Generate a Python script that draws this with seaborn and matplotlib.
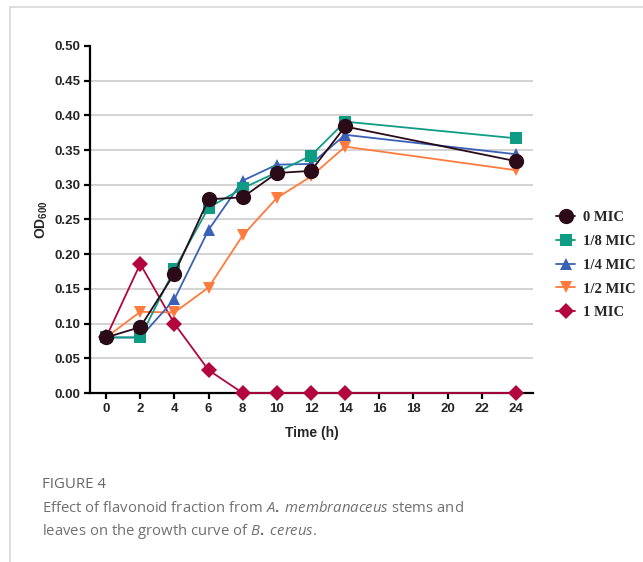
import numpy as np
import pandas as pd
import seaborn as sns
import matplotlib.pyplot as plt
from matplotlib.lines import Line2D

# data
time_h = [0, 2, 4, 6, 8, 10, 12, 14, 24]
od_0mic = [0.080, 0.095, 0.172, 0.279, 0.282, 0.317, 0.320, 0.384, 0.334]
od_18mic = [0.080, 0.080, 0.178, 0.267, 0.295, 0.318, 0.342, 0.391, 0.367]
od_14mic = [0.080, 0.080, 0.135, 0.235, 0.306, 0.329, 0.330, 0.372, 0.344]
od_12mic = [0.080, 0.117, 0.116, 0.152, 0.227, 0.281, 0.312, 0.355, 0.321]
od_1mic = [0.080, 0.186, 0.100, 0.033, 0.000, 0.000, 0.000, 0.000, 0.000]

groups = ["0 MIC", "1/8 MIC", "1/4 MIC", "1/2 MIC", "1 MIC"]
values = [od_0mic, od_18mic, od_14mic, od_12mic, od_1mic]
colors = ["#2b0b17", "#0f9c85", "#3b60b5", "#ff7a3d", "#b3063f"]
markers = ["o", "s", "^", "v", "D"]
msizes = [11, 9, 9, 9, 8]

df = pd.DataFrame({
    "time": time_h * len(groups),
    "od": sum(values, []),
    "group": np.repeat(groups, len(time_h)),
})

sns.set_style("white")
plt.rcParams["font.family"] = ["Liberation Sans", "DejaVu Sans"]
plt.rcParams["mathtext.fontset"] = "custom"
plt.rcParams["mathtext.bf"] = "Liberation Sans:bold"
plt.rcParams["mathtext.rm"] = "Liberation Sans:bold"
plt.rcParams["mathtext.it"] = "Open Sans:italic"

fig = plt.figure(figsize=(6.43, 5.62), dpi=100)
ax = fig.add_axes([0.140, 0.3007, 0.689, 0.6175])

# draw in reverse so 0 MIC sits on top
for i in reversed(range(len(groups))):
    sub = df[df["group"] == groups[i]]
    sns.lineplot(data=sub, x="time", y="od", ax=ax, color=colors[i],
                 marker=markers[i], markersize=msizes[i], markeredgewidth=0,
                 linewidth=1.3, label=groups[i], zorder=3 + (len(groups) - i),
                 clip_on=False)

ax.set_xlim(-0.94, 25)
ax.set_ylim(0, 0.5)
ax.set_xticks(np.arange(0, 25, 2))
ax.set_yticks(np.arange(0, 0.51, 0.05))
ax.set_yticklabels([f"{v:.2f}" for v in np.arange(0, 0.51, 0.05)])
ax.yaxis.grid(True, color="#d3d3d3", linewidth=1.4)
ax.get_ygridlines()[-1].set_visible(False)
ax.set_axisbelow(True)

for s in ["top", "right"]:
    ax.spines[s].set_visible(False)
for s in ["left", "bottom"]:
    ax.spines[s].set_linewidth(1.6)
    ax.spines[s].set_color("black")
    ax.spines[s].set_zorder(2.5)

ax.tick_params(axis="both", direction="out", length=4, width=1.6, color="black",
               labelsize=9.5, pad=3, bottom=True, left=True)
for lab in ax.get_xticklabels() + ax.get_yticklabels():
    lab.set_fontweight("bold")

ax.set_xlabel("Time (h)", fontsize=10, fontweight="bold", labelpad=8)
ax.set_ylabel(r"OD$_{600}$", fontsize=10, fontweight="bold", labelpad=3)

handles, labels = ax.get_legend_handles_labels()
order = [labels.index(g) for g in groups]
fig.legend([handles[k] for k in order], groups, loc="center left",
           bbox_to_anchor=(0.845, 0.528), frameon=False, handlelength=1.3,
           handletextpad=0.5, labelspacing=0.72,
           prop={"family": "Liberation Serif", "weight": "bold", "size": 10.5})
if ax.get_legend():
    ax.get_legend().remove()

# page frame lines
fig.add_artist(Line2D([0.0155, 1.0], [0.988, 0.988], color="#d8d8d8", linewidth=1.2))
fig.add_artist(Line2D([0.0155, 0.0155], [0.0, 0.988], color="#d8d8d8", linewidth=1.2))

# caption
cap_font = ["Open Sans", "DejaVu Sans"]
fig.text(0.065, 0.138, "FIGURE 4", fontsize=10.8, color="#666666", family=cap_font,
         va="center", ha="left", fontweight="medium")
fig.text(0.065, 0.095,
         "Effect of flavonoid fraction from $\\it{A.}$ $\\it{membranaceus}$ stems and",
         fontsize=10.7, color="#707070", family=cap_font, va="center", ha="left")
fig.text(0.065, 0.054,
         "leaves on the growth curve of $\\it{B.}$ $\\it{cereus}$.",
         fontsize=10.7, color="#707070", family=cap_font, va="center", ha="left")

fig.savefig("out.png", dpi=100)
